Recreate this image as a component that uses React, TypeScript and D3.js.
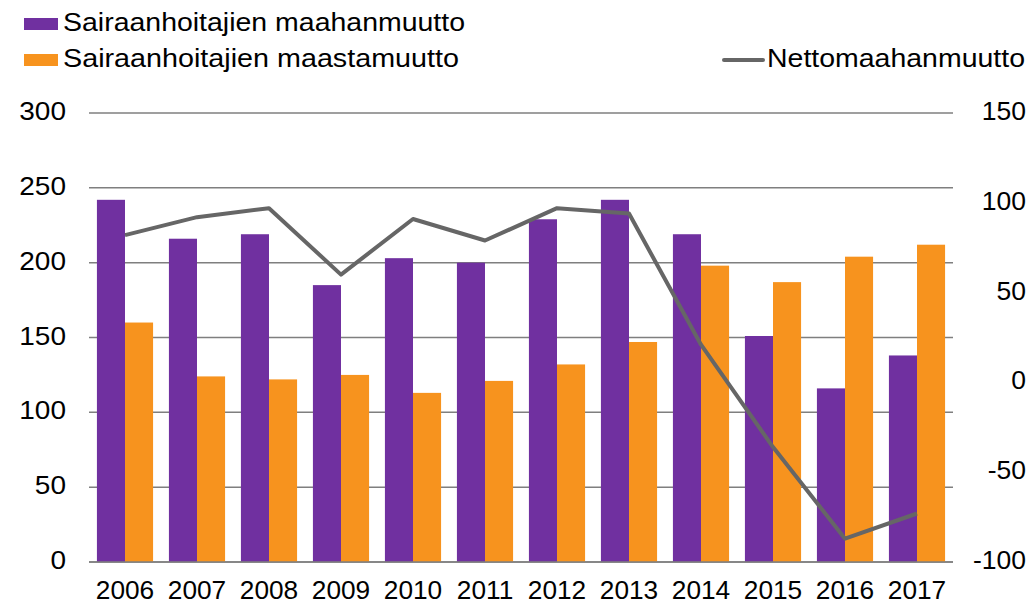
import React from "react";
import * as d3 from "d3";

const years = ["2006","2007","2008","2009","2010","2011","2012","2013","2014","2015","2016","2017"];
const immigration = [242, 216, 219, 185, 203, 200, 229, 242, 219, 151, 116, 138];
const emigration = [160, 124, 122, 125, 113, 121, 132, 147, 198, 187, 204, 212];
const netImmigration = [82, 92, 97, 60, 91, 79, 97, 94, 21, -36, -87, -73];
const leftTicks = [0, 50, 100, 150, 200, 250, 300];
const rightTicks = [-100, -50, 0, 50, 100, 150];

const PURPLE = "#7030A0";
const ORANGE = "#F7931E";
const GRAY = "#666666";
const FONT = "Liberation Sans, Arial, sans-serif";

function T({ x, y, anchor = "start", size = 25, sx = 1.08, children }: any) {
  return (
    <text transform={`translate(${x},${y}) scale(${sx},1)`} textAnchor={anchor} fontSize={size} fill="#000">
      {children}
    </text>
  );
}

export default function App() {
  const W = 1031, H = 603;
  const left = 89, right = 953, top = 113, bottom = 562;
  const x = d3.scaleBand<string>().domain(years).range([left, right]).paddingInner(0.22).paddingOuter(0.11);
  const yL = d3.scaleLinear().domain([0, 300]).range([bottom, top]);
  const yR = d3.scaleLinear().domain([-100, 150]).range([bottom, top]);
  const bw = x.bandwidth() / 2;
  const line = d3.line<number>()
    .x((_, i) => (x(years[i]) as number) + bw)
    .y((d) => yR(d));

  return (
    <svg width={W} height={H} style={{ position: "absolute", left: 0, top: 0, background: "#fff" }} fontFamily={FONT}>
      {leftTicks.map((t) => (
        <g key={"l" + t}>
          <line x1={left} x2={right} y1={yL(t)} y2={yL(t)} stroke="#7f7f7f" strokeWidth={1.5} />
          <T x={66} y={yL(t) + 7} anchor="end" sx={1.12}>{t}</T>
        </g>
      ))}
      {rightTicks.map((t) => (
        <T key={"r" + t} x={1026} y={yR(t) + 7} anchor="end" sx={1.06}>{t}</T>
      ))}
      {years.map((yr, i) => (
        <g key={yr}>
          <rect x={x(yr)} y={yL(immigration[i])} width={bw} height={bottom - yL(immigration[i])} fill={PURPLE} />
          <rect x={(x(yr) as number) + bw} y={yL(emigration[i])} width={bw} height={bottom - yL(emigration[i])} fill={ORANGE} />
          <T x={(x(yr) as number) + bw} y={599} anchor="middle" sx={1.05}>{yr}</T>
        </g>
      ))}
      <line x1={left} x2={right} y1={bottom} y2={bottom} stroke="#7f7f7f" strokeWidth={1.5} />
      <path d={line(netImmigration) || ""} fill="none" stroke={GRAY} strokeWidth={4} strokeLinejoin="round" />
      {/* legend */}
      <rect x={24} y={18} width={34} height={12} fill={PURPLE} />
      <text x={63} y={31} fontSize={26} fill="#000" textLength={402} lengthAdjust="spacingAndGlyphs">Sairaanhoitajien maahanmuutto</text>
      <rect x={24} y={54} width={34} height={12} fill={ORANGE} />
      <text x={63} y={67} fontSize={26} fill="#000" textLength={396} lengthAdjust="spacingAndGlyphs">Sairaanhoitajien maastamuutto</text>
      <line x1={724} x2={763} y1={60} y2={60} stroke={GRAY} strokeWidth={4} strokeLinecap="round" />
      <text x={767} y={67} fontSize={26} fill="#000" textLength={258} lengthAdjust="spacingAndGlyphs">Nettomaahanmuutto</text>
    </svg>
  );
}
